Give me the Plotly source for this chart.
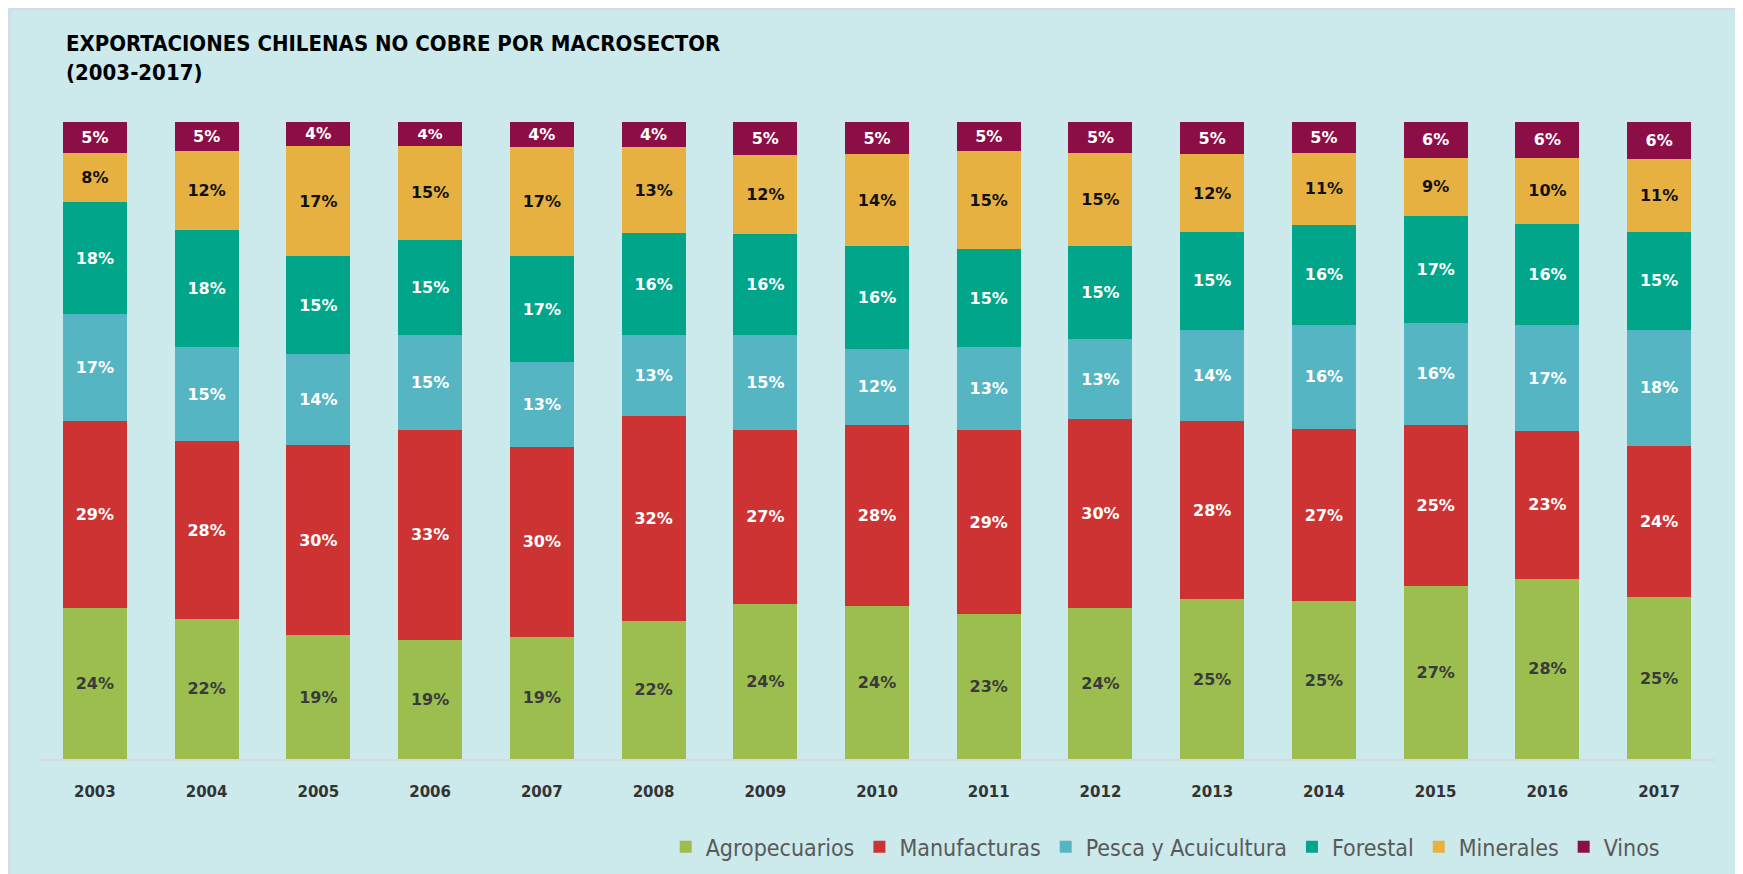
import plotly.graph_objects as go

years = ['2003', '2004', '2005', '2006', '2007', '2008', '2009', '2010',
         '2011', '2012', '2013', '2014', '2015', '2016', '2017']

# Share of non-copper exports (%) per macrosector
agropecuarios = [23.7, 22.0, 19.4, 18.7, 19.2, 21.7, 24.4, 24.0, 22.7, 23.7, 25.1, 24.8, 27.2, 28.3, 25.4]
manufacturas = [29.3, 27.9, 29.9, 33.0, 29.8, 32.1, 27.2, 28.4, 29.0, 29.6, 27.9, 27.0, 25.3, 23.2, 23.7]
pesca = [16.8, 14.8, 14.3, 14.8, 13.3, 12.7, 14.9, 12.0, 13.0, 12.6, 14.4, 16.4, 15.9, 16.6, 18.3]
forestal = [17.6, 18.4, 15.3, 15.0, 16.6, 16.1, 15.9, 16.2, 15.3, 14.6, 15.3, 15.7, 16.8, 15.9, 15.4]
minerales = [7.7, 12.3, 17.3, 14.8, 17.1, 13.4, 12.4, 14.3, 15.4, 14.6, 12.2, 11.2, 9.2, 10.4, 11.4]
vinos = [4.9, 4.6, 3.8, 3.7, 4.0, 4.0, 5.2, 5.1, 4.6, 4.9, 5.1, 4.9, 5.6, 5.6, 5.8]

series = [
    ('Agropecuarios', agropecuarios, '#9BBE4F', '#3A3A3A'),
    ('Manufacturas', manufacturas, '#CE3333', '#FFFFFF'),
    ('Pesca y Acuicultura', pesca, '#56B5C3', '#FFFFFF'),
    ('Forestal', forestal, '#00A58A', '#FFFFFF'),
    ('Minerales', minerales, '#E7B142', '#111111'),
    ('Vinos', vinos, '#8C0E46', '#FFFFFF'),
]

BG = '#CCE9EB'
# plot area in figure pixels
L, T, R, B = 31, 114, 36, 123
PW, PH = 1743 - L - R, 874 - T - B

fig = go.Figure()
for name, vals, color, txtcolor in series:
    fig.add_trace(go.Bar(
        x=years,
        y=vals,
        name=name,
        marker=dict(color=color, line=dict(width=0)),
        texttemplate='%{y:.0f}%',
        textposition='inside',
        insidetextanchor='middle',
        textangle=0,
        textfont=dict(family='DejaVu Sans', size=16, color=txtcolor, weight='bold'),
        hovertemplate=name + ' %{x}: %{y:.1f}%<extra></extra>'
    ))

fig.update_layout(
    barmode='stack',
    bargap=0.427,
    width=1743,
    height=874,
    margin=dict(l=L, r=R, t=T, b=B, autoexpand=False),
    paper_bgcolor=BG,
    plot_bgcolor=BG,
    title=dict(
        text='EXPORTACIONES CHILENAS NO COBRE POR MACROSECTOR<br>(2003-2017)',
        x=58 / 1743,
        xanchor='left',
        y=1 - 43 / 874,
        yanchor='middle',
        font=dict(family='DejaVu Sans Condensed, sans-serif',
                  size=22, color='#000000', weight='bold')
    ),
    legend=dict(
        orientation='h',
        x=0.97,
        xanchor='right',
        y=-0.138,
        yanchor='middle',
        bgcolor='rgba(0,0,0,0)',
        font=dict(family='DejaVu Sans Condensed, sans-serif',
                  size=23, color='#595959'),
        traceorder='normal',
    ),
    shapes=[
        # thin grey frame along the top and left edges
        dict(type='line', xref='paper', yref='paper',
             x0=(1.5 - L) / PW, x1=(1743 - L) / PW,
             y0=(PH + T - 1) / PH, y1=(PH + T - 1) / PH,
             line=dict(color='#DADADA', width=2)),
        dict(type='line', xref='paper', yref='paper',
             x0=(1.5 - L) / PW, x1=(1.5 - L) / PW,
             y0=-B / PH, y1=(PH + T - 1) / PH,
             line=dict(color='#DADADA', width=2)),
    ],
)

fig.update_xaxes(
    showline=True,
    linecolor='#D9D9D9',
    linewidth=2,
    ticks='',
    ticklabelstandoff=18,
    tickfont=dict(family='DejaVu Sans', size=15, color='#333333', weight='bold'),
    showgrid=False,
)
fig.update_yaxes(
    range=[0, 100],
    visible=False,
    showgrid=False,
)

fig.write_html("out.html")
